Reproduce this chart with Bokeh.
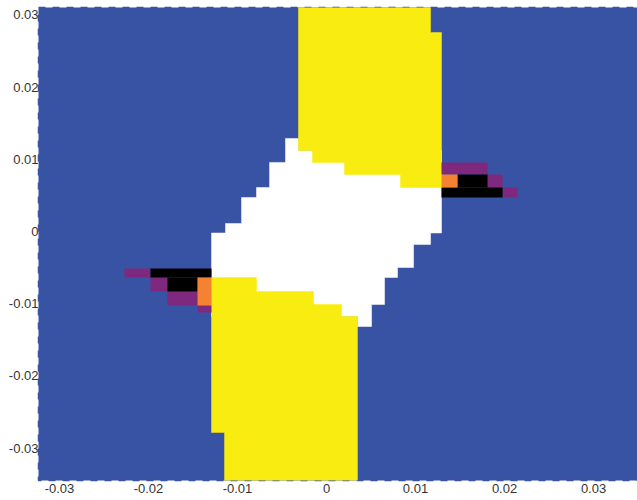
from bokeh.plotting import figure
from bokeh.models import Range1d, FixedTicker
from bokeh.embed import file_html
from bokeh.resources import INLINE

tick_values = [-0.03, -0.02, -0.01, 0, 0.01, 0.02, 0.03]
tick_labels = ["-0.03", "-0.02", "-0.01", "0", "0.01", "0.02", "0.03"]

x_limits = (-0.03236, 0.03494)
y_limits = (-0.03449, 0.03102)

white_x = [-0.00315, -0.00461, -0.00461, -0.0064, -0.0064, -0.00787, -0.00787, -0.00955, -0.00955,
           -0.01135, -0.01135, -0.01292, -0.01292, 0.00348, 0.00348, 0.00506, 0.00506, 0.00652,
           0.00652, 0.00798, 0.00798, 0.00978, 0.00978, 0.01169, 0.01169, 0.01292, 0.01292, -0.00315]
white_y = [0.01288, 0.01288, 0.00956, 0.00956, 0.00609, 0.00609, 0.00471, 0.00471, 0.00111,
           0.00111, -0.00021, -0.00021, -0.01177, -0.01177, -0.01316, -0.01316, -0.01011, -0.01011,
           -0.00637, -0.00637, -0.00499, -0.00499, -0.0018, -0.0018, -0.00021, -0.00021, 0.01122, 0.01122]

yellow_upper_x = [-0.00315, 0.01169, 0.01169, 0.01292, 0.01292, 0.00831, 0.00831, 0.00202,
                  0.00202, -0.00157, -0.00157, -0.00315]
yellow_upper_y = [0.03102, 0.03102, 0.02756, 0.02756, 0.00609, 0.00609, 0.00789, 0.00789,
                  0.00956, 0.00956, 0.01122, 0.01122]

yellow_lower_x = [-0.01292, -0.00787, -0.00787, -0.00146, -0.00146, 0.00169, 0.00169, 0.00348,
                  0.00348, -0.01146, -0.01146, -0.01292]
yellow_lower_y = [-0.00637, -0.00637, -0.00831, -0.00831, -0.01011, -0.01011, -0.01177, -0.01177,
                  -0.03449, -0.03449, -0.02784, -0.02784]

purple_left = [-0.0227, -0.01978, -0.01787, -0.01449, 0.01292, 0.01809, 0.01978]
purple_right = [-0.01978, -0.01787, -0.01449, -0.01292, 0.01809, 0.01978, 0.02146]
purple_bottom = [-0.00637, -0.00831, -0.01025, -0.01122, 0.00789, 0.00609, 0.00471]
purple_top = [-0.00512, -0.00637, -0.00831, -0.01025, 0.00956, 0.00789, 0.00609]

black_left = [-0.01978, -0.01787, 0.01472, 0.01292]
black_right = [-0.01292, -0.01449, 0.01809, 0.01978]
black_bottom = [-0.00637, -0.00831, 0.00609, 0.00471]
black_top = [-0.00512, -0.00637, 0.00789, 0.00609]

orange_left = [-0.01449, 0.01292]
orange_right = [-0.01292, 0.01472]
orange_bottom = [-0.01025, 0.00609]
orange_top = [-0.00637, 0.00789]

BLUE = "#3953a4"
p = figure(width=637, height=500, output_backend="svg", toolbar_location=None,
           x_range=Range1d(*x_limits), y_range=Range1d(*y_limits),
           min_border_left=38, min_border_right=0, min_border_top=7, min_border_bottom=20,
           background_fill_color=BLUE, border_fill_color="white",
           outline_line_color=BLUE, outline_line_width=1.5, outline_line_dash="7 7")
p.grid.visible = False

p.patch(white_x, white_y, fill_color="white", line_color="white", line_width=0.5)
p.patch(yellow_upper_x, yellow_upper_y, fill_color="#f8ec10", line_color="#f8ec10", line_width=0.5)
p.patch(yellow_lower_x, yellow_lower_y, fill_color="#f8ec10", line_color="#f8ec10", line_width=0.5)
p.quad(left=purple_left, right=purple_right, bottom=purple_bottom, top=purple_top,
       fill_color="#7f297e", line_color=None)
p.quad(left=black_left, right=black_right, bottom=black_bottom, top=black_top,
       fill_color="#000000", line_color=None)
p.quad(left=orange_left, right=orange_right, bottom=orange_bottom, top=orange_top,
       fill_color="#f58233", line_color=None)

for ax in (p.xaxis[0], p.yaxis[0]):
    ax.ticker = FixedTicker(ticks=tick_values)
    ax.major_label_overrides = dict(zip(tick_values, tick_labels))
    ax.axis_line_color = None
    ax.major_tick_line_color = None
    ax.minor_tick_line_color = None
    ax.major_tick_out = 0
    ax.major_tick_in = 0
    ax.major_label_text_font = "Liberation Sans"
    ax.major_label_text_font_size = "13px"
    ax.major_label_text_color = "#333333"
    ax.major_label_standoff = 3
p.yaxis[0].major_label_standoff = 0

open("out.html", "w").write(file_html(p, INLINE))
